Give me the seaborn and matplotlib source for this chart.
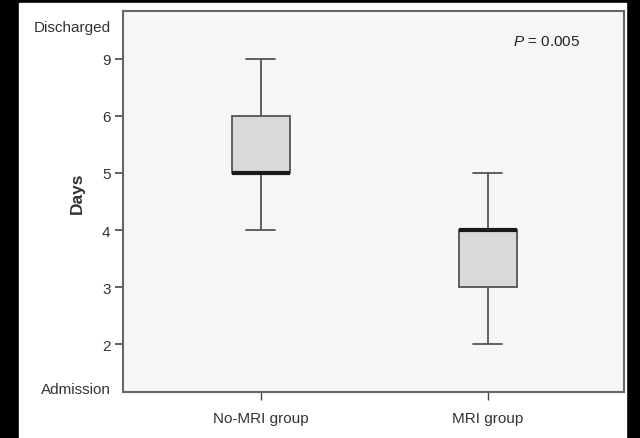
import numpy as np
import pandas as pd
import seaborn as sns
import matplotlib.pyplot as plt
from matplotlib.patches import Rectangle

# day values per patient (read from the box summaries)
no_mri_days = [4, 5, 5, 5, 5, 6, 6, 6, 9]
mri_days = [2, 3, 3, 4, 4, 4, 4, 4, 5]
groups = ['No-MRI group', 'MRI group']

# the y axis is ordinal: evenly spaced ticks for these day values
day_ticks = [2, 3, 4, 5, 6, 9]
day_pos = {d: i for i, d in enumerate(day_ticks)}

df = pd.DataFrame({
    'group': [groups[0]] * len(no_mri_days) + [groups[1]] * len(mri_days),
    'days': no_mri_days + mri_days,
})
df['pos'] = df['days'].map(day_pos)

sns.set_style('white')
plt.rcParams['font.family'] = ['Liberation Sans', 'DejaVu Sans']
plt.rcParams['mathtext.fontset'] = 'custom'
plt.rcParams['mathtext.it'] = 'Liberation Sans:italic'
plt.rcParams['mathtext.rm'] = 'Liberation Sans'

fig = plt.figure(figsize=(6.4, 4.39), dpi=100, facecolor='black')
fig.patches.append(Rectangle((19 / 640, 0), (626 - 19) / 640, (439 - 4) / 439,
                             transform=fig.transFigure, color='white', zorder=-1))
ax = fig.add_axes([123 / 640, 46 / 439, 501 / 640, 381 / 439])
ax.set_facecolor('#f6f6f6')

sns.boxplot(data=df, x='group', y='pos', order=groups, width=0.255,
            color='#d8d9db', saturation=1, linecolor='#555555', linewidth=1.3,
            whis=(0, 100), medianprops=dict(color='#1a1a1a', linewidth=3),
            ax=ax)

ax.set_xlim(-0.608, 1.6)
ax.set_ylim(-0.84, 5.84)

ylabels = ['Admission'] + [str(d) for d in day_ticks] + ['Discharged']
ax.set_yticks([-0.754] + list(range(len(day_ticks))) + [5.58])
ax.set_yticklabels(ylabels)

ax.tick_params(axis='y', left=True, length=6, width=1.2, color='#444444',
               labelsize=11, labelcolor='#333333', pad=3)
ax.tick_params(axis='x', bottom=True, length=6, width=1.0, color='#444444',
               labelsize=11, labelcolor='#333333', pad=8)
# the end labels carry no tick mark
ticks = ax.yaxis.get_major_ticks()
ticks[0].tick1line.set_visible(False)
ticks[-1].tick1line.set_visible(False)

ax.set_xlabel('')
ax.set_ylabel('Days', fontsize=12.5, fontweight='bold', color='#333333')
ax.yaxis.set_label_coords(-0.076, 0.525)

for s in ax.spines.values():
    s.set_color('#666666')
    s.set_linewidth(1.5)

ax.text(0.778, 0.921, '$P$ = 0.005', transform=ax.transAxes, fontsize=11,
        color='#222222', va='center', ha='left')

fig.savefig('out.png', dpi=100, facecolor=fig.get_facecolor())
